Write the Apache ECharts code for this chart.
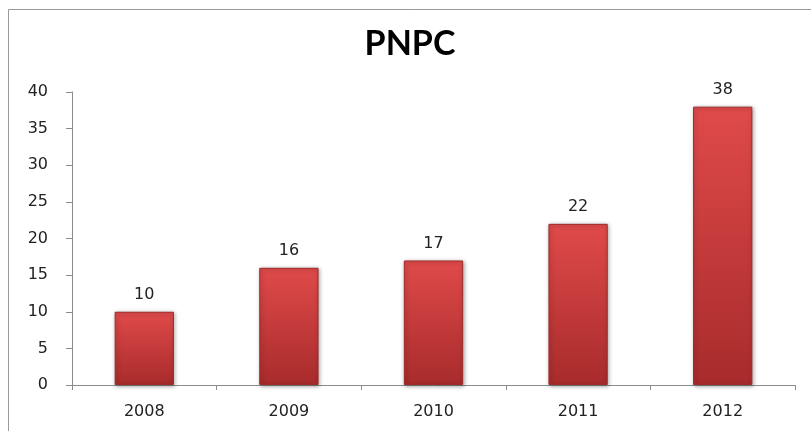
<!DOCTYPE html>
<html>
<head>
<meta charset="utf-8">
<script src="https://cdn.jsdelivr.net/npm/echarts@6/dist/echarts.min.js"></script>
<style>
  html, body { margin: 0; padding: 0; background: #fff; }
  #chart { width: 811px; height: 431px; }
</style>
</head>
<body>
<div id="chart"></div>
<script>
// 数据
var years = ['2008', '2009', '2010', '2011', '2012'];
var pnpcValues = [10, 16, 17, 22, 38];
var yTicks = [0, 5, 10, 15, 20, 25, 30, 35, 40];

var myChart = echarts.init(document.getElementById('chart'));

var barFill = new echarts.graphic.LinearGradient(0, 0, 0, 1, [
    { offset: 0, color: '#e04a4a' },
    { offset: 1, color: '#a82b2b' }
]);

var option = {
    backgroundColor: '#fff',
    animation: false,
    title: {
        text: 'PNPC',
        left: 405,
        top: 22,
        textAlign: 'center',
        textStyle: {
            fontFamily: 'Lato',
            fontWeight: 'bold',
            fontSize: 34,
            color: '#000'
        }
    },
    grid: { left: 72, top: 92, right: 16, bottom: 46 },
    // 外框
    graphic: [{
        type: 'rect',
        shape: { x: 8.5, y: 9.5, width: 900, height: 500 },
        style: { fill: 'none', stroke: '#9a9a9a', lineWidth: 1 },
        silent: true
    }],
    xAxis: {
        type: 'category',
        data: years,
        axisLine: { lineStyle: { color: '#8c8c8c' } },
        axisTick: { show: true, inside: false, length: 5, alignWithLabel: false, lineStyle: { color: '#8c8c8c' } },
        axisLabel: { margin: 19, fontFamily: 'DejaVu Sans', fontSize: 16, color: '#222' }
    },
    yAxis: {
        type: 'value',
        min: yTicks[0],
        max: yTicks[yTicks.length - 1],
        interval: 5,
        axisLine: { show: true, lineStyle: { color: '#8c8c8c' } },
        axisTick: { show: true, inside: false, length: 6, lineStyle: { color: '#8c8c8c' } },
        splitLine: { show: false },
        axisLabel: { margin: 24, fontFamily: 'DejaVu Sans', fontSize: 16, color: '#222' }
    },
    series: [{
        name: 'PNPC',
        type: 'bar',
        data: pnpcValues,
        barWidth: '41%',
        itemStyle: {
            color: barFill,
            borderColor: '#9e2a2a',
            borderWidth: 1,
            shadowColor: 'rgba(0,0,0,0.35)',
            shadowBlur: 4,
            shadowOffsetX: 1,
            shadowOffsetY: 1
        },
        label: {
            show: true,
            position: 'top',
            distance: 9,
            fontFamily: 'DejaVu Sans',
            fontSize: 16,
            color: '#222'
        }
    }]
};
myChart.setOption(option);
</script>
</body>
</html>
